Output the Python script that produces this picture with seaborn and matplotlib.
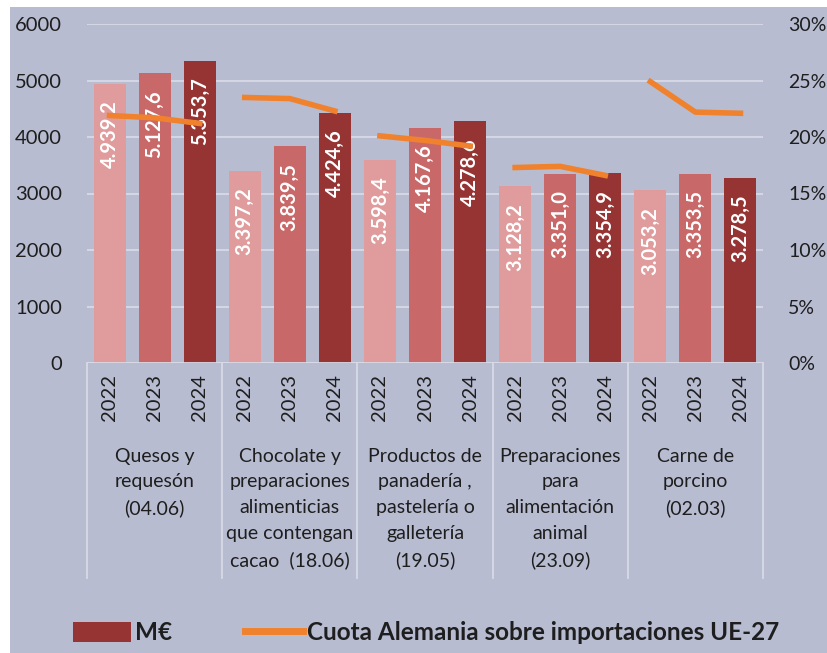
import pandas as pd
import seaborn as sns
import matplotlib.pyplot as plt
from matplotlib.patches import Rectangle, Patch
from matplotlib.lines import Line2D
from matplotlib.ticker import FuncFormatter

# Datos
grupos = ['Quesos y\nrequesón\n(04.06)',
          'Chocolate y\npreparaciones\nalimenticias\nque contengan\ncacao  (18.06)',
          'Productos de\npanadería ,\npastelería o\ngalletería\n(19.05)',
          'Preparaciones\npara\nalimentación\nanimal\n(23.09)',
          'Carne de\nporcino\n(02.03)']
anios = ['2022', '2023', '2024']
millones = [[4939.2, 5127.6, 5353.7],
            [3397.2, 3839.5, 4424.6],
            [3598.4, 4167.6, 4278.6],
            [3128.2, 3351.0, 3354.9],
            [3053.2, 3353.5, 3278.5]]
cuota = [[21.9, 21.7, 21.2],
         [23.5, 23.4, 22.3],
         [20.1, 19.7, 19.2],
         [17.3, 17.4, 16.6],
         [24.9, 22.2, 22.1]]

filas = []
for g, (vals, cuotas) in enumerate(zip(millones, cuota)):
    for a, (v, c) in enumerate(zip(vals, cuotas)):
        filas.append({'pos': g * 3 + a, 'grupo': g, 'anio': anios[a],
                      'valor': v, 'cuota': c})
df = pd.DataFrame(filas)

colores = {'2022': '#e09c9c', '2023': '#c96868', '2024': '#963434'}
naranja = '#f0822e'
fondo = '#b8bcd1'
texto = '#1e1e1e'

plt.rcParams['font.family'] = ['Lato', 'DejaVu Sans']

fig = plt.figure(figsize=(8.27, 6.53), dpi=100, facecolor='white')
fig.patches.append(Rectangle((10 / 827, 0), 1, 1 - 7 / 653, transform=fig.transFigure,
                             facecolor=fondo, edgecolor='none', zorder=-10))
ax = fig.add_axes([87 / 827, 1 - 363 / 653, (763 - 87) / 827, (363 - 24) / 653])
ax.set_facecolor(fondo)

sns.barplot(data=df, x='pos', y='valor', hue='anio', palette=colores, dodge=False,
            width=0.71, ax=ax, legend=False, zorder=3, saturation=1)

for _, r in df.iterrows():
    ax.annotate(f"{r['valor']:,.1f}".replace(',', 'X').replace('.', ',').replace('X', '.'),
                (r['pos'], r['valor']), xytext=(0, -12), textcoords='offset points',
                rotation=90, ha='center', va='top', color='white',
                fontsize=14.5, fontweight='bold', zorder=5)

ax.set_xlim(-0.5, 14.5)
ax.set_ylim(0, 6000)
ax.set_yticks(range(0, 6001, 1000))
ax.grid(axis='y', color='#d8dae5', linewidth=1.3, zorder=0)
ax.grid(axis='x', visible=False)
for s in ax.spines.values():
    s.set_visible(False)
ax.axhline(0, color='#d8dae5', linewidth=1.3, zorder=4)
ax.set_xlabel('')
ax.set_ylabel('')
ax.set_xticks(df['pos'])
ax.set_xticklabels(df['anio'], rotation=90, fontsize=14.5, color=texto)
ax.tick_params(axis='x', length=0, pad=8)
ax.tick_params(axis='y', length=0, pad=18, labelsize=14.5, labelcolor=texto)

# separadores y nombres de grupo
for k in range(6):
    ax.plot([k * 3 - 0.5] * 2, [0, -0.635], transform=ax.get_xaxis_transform(),
            color='#d8dae5', linewidth=1.3, clip_on=False)
for g, nombre in enumerate(grupos):
    ax.text(g * 3 + 1, -0.25, nombre, transform=ax.get_xaxis_transform(),
            ha='center', va='top', fontsize=14, color=texto, linespacing=1.62)

ax2 = ax.twinx()
sns.lineplot(data=df, x='pos', y='cuota', units='grupo', estimator=None,
             color=naranja, linewidth=4, ax=ax2, zorder=6)
ax2.set_ylim(0, 30)
ax2.set_yticks(range(0, 31, 5))
ax2.yaxis.set_major_formatter(FuncFormatter(lambda v, p: f'{v:.0f}%'))
ax2.tick_params(axis='y', length=0, pad=18, labelsize=14, labelcolor=texto)
ax2.set_ylabel('')
ax2.grid(False)
for s in ax2.spines.values():
    s.set_visible(False)

handles = [Patch(facecolor=colores['2024'], label='M€'),
           Line2D([0], [0], color=naranja, linewidth=5,
                  label='Cuota Alemania sobre importaciones UE-27')]
leg = fig.legend(handles=handles, loc='center', bbox_to_anchor=(0.515, 1 - 633 / 653),
                 ncol=2, frameon=False, handlelength=2.4, handleheight=0.9,
                 columnspacing=3.0, handletextpad=0.15,
                 prop={'weight': 'bold', 'size': 17.5})
for t in leg.get_texts():
    t.set_color(texto)

fig.savefig('out.png', dpi=100, facecolor=fig.get_facecolor())
